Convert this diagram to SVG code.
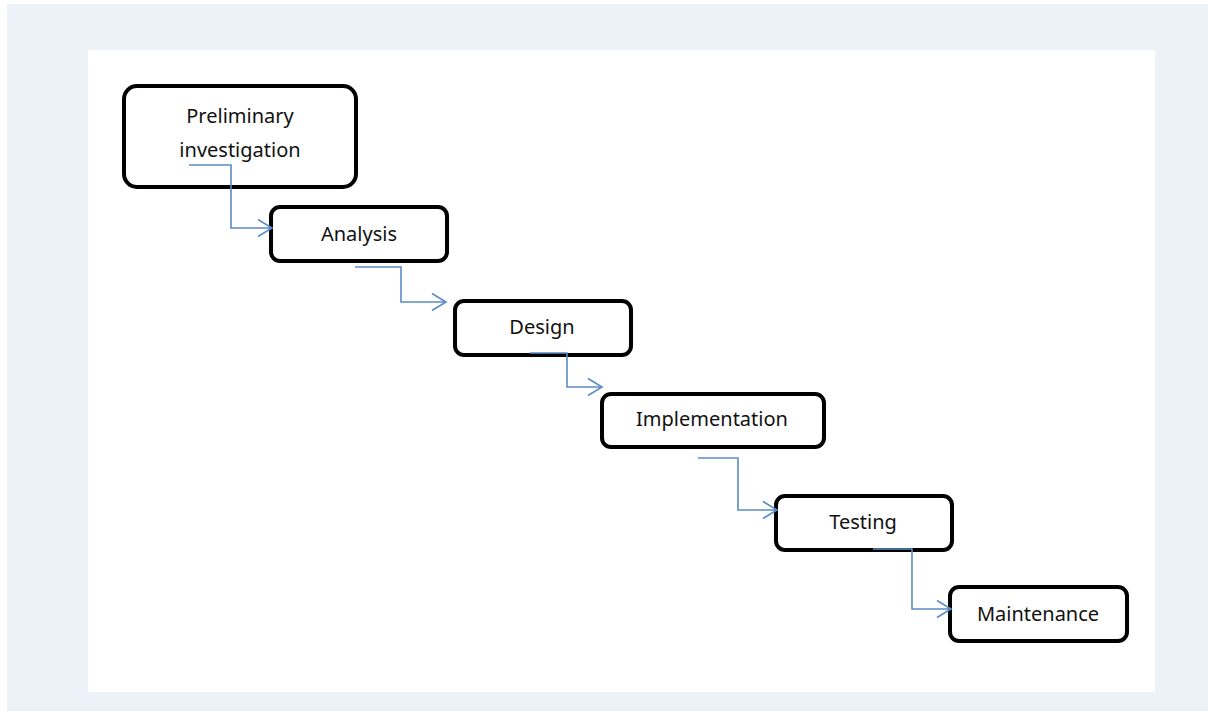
<svg xmlns="http://www.w3.org/2000/svg" width="1208" height="711" viewBox="0 0 1208 711">
<defs>
<style>
.node rect{fill:#fff;stroke:#000;stroke-width:4}
.node text{font-family:"Noto Sans","Open Sans",sans-serif;font-size:20px;fill:#111;text-anchor:middle}
.conn path{fill:none;stroke:#5b8bc9;stroke-width:1.6}
</style>
<marker id="arr" markerWidth="20" markerHeight="20" refX="15" refY="10" orient="auto" markerUnits="userSpaceOnUse">
<path d="M1,1.5 L15,10 L1,18.5" fill="none" stroke="#5b8bc9" stroke-width="1.6"/>
</marker>
</defs>
<rect x="0" y="0" width="1208" height="711" fill="#fff"/>
<rect x="7" y="4" width="1201" height="707" fill="#edf2f9"/>
<rect x="88" y="50" width="1067" height="642" fill="#fff"/>
<g id="n1" class="node"><rect x="124" y="86" width="232" height="101" rx="13"/><text x="240" y="123">Preliminary</text><text x="240" y="157">investigation</text></g>
<g id="n2" class="node"><rect x="271" y="207" width="176" height="54" rx="9"/><text x="359" y="241">Analysis</text></g>
<g id="n3" class="node"><rect x="455" y="301" width="176" height="54" rx="9"/><text x="542" y="334">Design</text></g>
<g id="n4" class="node"><rect x="602" y="394" width="222" height="53" rx="9"/><text x="712" y="426">Implementation</text></g>
<g id="n5" class="node"><rect x="776" y="496" width="176" height="54" rx="9"/><text x="863" y="529">Testing</text></g>
<g id="n6" class="node"><rect x="950" y="587" width="177" height="54" rx="9"/><text x="1038" y="621">Maintenance</text></g>
<g id="connectors" class="conn">
<path d="M189,165 H231 V228 H272" marker-end="url(#arr)"/>
<path d="M355,267 H401 V302 H446" marker-end="url(#arr)"/>
<path d="M530,353 H567 V387 H602" marker-end="url(#arr)"/>
<path d="M698,458 H738 V510 H777" marker-end="url(#arr)"/>
<path d="M873,549 H912 V609 H951" marker-end="url(#arr)"/>
</g>
</svg>
